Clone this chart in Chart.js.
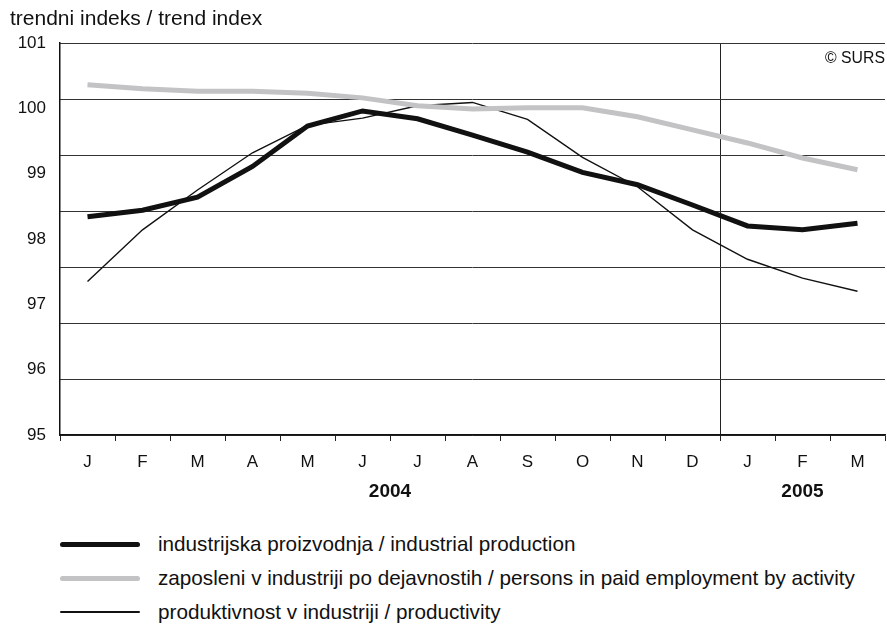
<!DOCTYPE html>
<html>
<head>
<meta charset="utf-8">
<script src="https://cdn.jsdelivr.net/npm/chart.js@4/dist/chart.umd.min.js"></script>
<style>
body{margin:0;background:#fff;font-family:"Liberation Sans",Arial,sans-serif;color:#111;}
#wrap{position:relative;width:887px;height:627px;}
#title{position:absolute;left:10px;top:5px;font-size:21px;line-height:26px;}
#copy{position:absolute;left:825px;top:48px;font-size:15.8px;line-height:20px;}
.leg{position:absolute;left:0;font-size:20.7px;height:24px;line-height:24px;}
.leg span.ln{position:absolute;left:60px;width:80px;top:12px;border-radius:3px;}
.leg span.tx{position:absolute;left:158px;white-space:nowrap;}
</style>
</head>
<body>
<div id="wrap">
  <canvas id="myChart" width="887" height="520"></canvas>
  <div id="title">trendni indeks / trend index</div>
  <div id="copy">© SURS</div>
  <div id="legend"></div>
</div>
<script>
const months = ['J','F','M','A','M','J','J','A','S','O','N','D','J','F','M'];
const years = [{label:'2004', from:0, to:11}, {label:'2005', from:12, to:14}];

const production = [98.34,98.44,98.64,99.11,99.73,99.96,99.84,99.59,99.33,99.02,98.83,98.52,98.20,98.14,98.24];
const employment = [100.36,100.30,100.26,100.26,100.23,100.16,100.04,99.99,100.01,100.01,99.87,99.67,99.47,99.24,99.06];
const productivity = [97.35,98.14,98.75,99.32,99.74,99.85,100.04,100.09,99.83,99.25,98.80,98.14,97.69,97.40,97.20];

const seriesNames = [
    'industrijska proizvodnja / industrial production',
    'zaposleni v industriji po dejavnostih / persons in paid employment by activity',
    'produktivnost v industriji / productivity'
];

window.addEventListener("load",function(){
    init();
});

function init(){
    const yearPlugin = {
        id:'years',
        afterDraw(chart){
            const ctx = chart.ctx;
            const x = chart.scales.x;
            ctx.save();
            ctx.font = 'bold 19px "Liberation Sans", Arial, sans-serif';
            ctx.fillStyle = '#111';
            ctx.textAlign = 'center';
            ctx.textBaseline = 'middle';
            for(let i=0;i<years.length;i++){
                const cx = (x.getPixelForValue(years[i].from) + x.getPixelForValue(years[i].to))/2;
                ctx.fillText(years[i].label, cx, 492);
            }
            ctx.restore();
        }
    };

    const ctx = document.getElementById('myChart').getContext('2d');
    new Chart(ctx, {
        type:'line',
        data:{
            labels:months,
            datasets:[{
                label:seriesNames[1],
                data:employment,
                borderColor:'#c3c3c5',
                borderWidth:5,
                pointRadius:0,
                tension:0
            },{
                label:seriesNames[2],
                data:productivity,
                borderColor:'#111',
                borderWidth:1.4,
                pointRadius:0,
                tension:0
            },{
                label:seriesNames[0],
                data:production,
                borderColor:'#111',
                borderWidth:5,
                pointRadius:0,
                tension:0
            }]
        },
        options:{
            responsive:false,
            animation:false,
            layout:{padding:{top:43,right:2,left:0,bottom:0}},
            plugins:{legend:{display:false},tooltip:{enabled:false}},
            scales:{
                x:{
                    offset:true,
                    grid:{
                        offset:true,
                        color:(c)=> c.index===12 ? '#222' : 'rgba(0,0,0,0)',
                        tickColor:'#222',
                        tickLength:6,
                        lineWidth:1
                    },
                    border:{display:true,color:'#111',width:1.5},
                    ticks:{color:'#111',font:{size:17,family:'"Liberation Sans", Arial, sans-serif'},padding:11,maxRotation:0,autoSkip:false},
                    afterFit(scale){ scale.height = 85; }
                },
                y:{
                    min:95,max:101,
                    ticks:{stepSize:1,color:'#111',font:{size:17,family:'"Liberation Sans", Arial, sans-serif'},padding:6},
                    grid:{display:false},
                    border:{display:true,color:'#111',width:1.5},
                    afterFit(scale){ scale.width = 60; }
                },
                g:{
                    position:'right',
                    min:0,max:7,
                    ticks:{display:false,stepSize:1},
                    grid:{color:'#333',lineWidth:1,drawTicks:false},
                    border:{display:false},
                    afterFit(scale){ scale.width = 0; }
                }
            }
        },
        plugins:[yearPlugin]
    });

    const legend = document.getElementById('legend');
    const styles = [
        {color:'#111',h:5,top:532},
        {color:'#c3c3c5',h:5,top:566},
        {color:'#111',h:1.5,top:600}
    ];
    for(let i=0;i<seriesNames.length;i++){
        legend.innerHTML += `
        <div class="leg" style="top:${styles[i].top}px">
            <span class="ln" style="height:${styles[i].h}px;background:${styles[i].color};margin-top:${-styles[i].h/2}px"></span>
            <span class="tx">${seriesNames[i]}</span>
        </div>`;
    }
}
</script>
</body>
</html>
